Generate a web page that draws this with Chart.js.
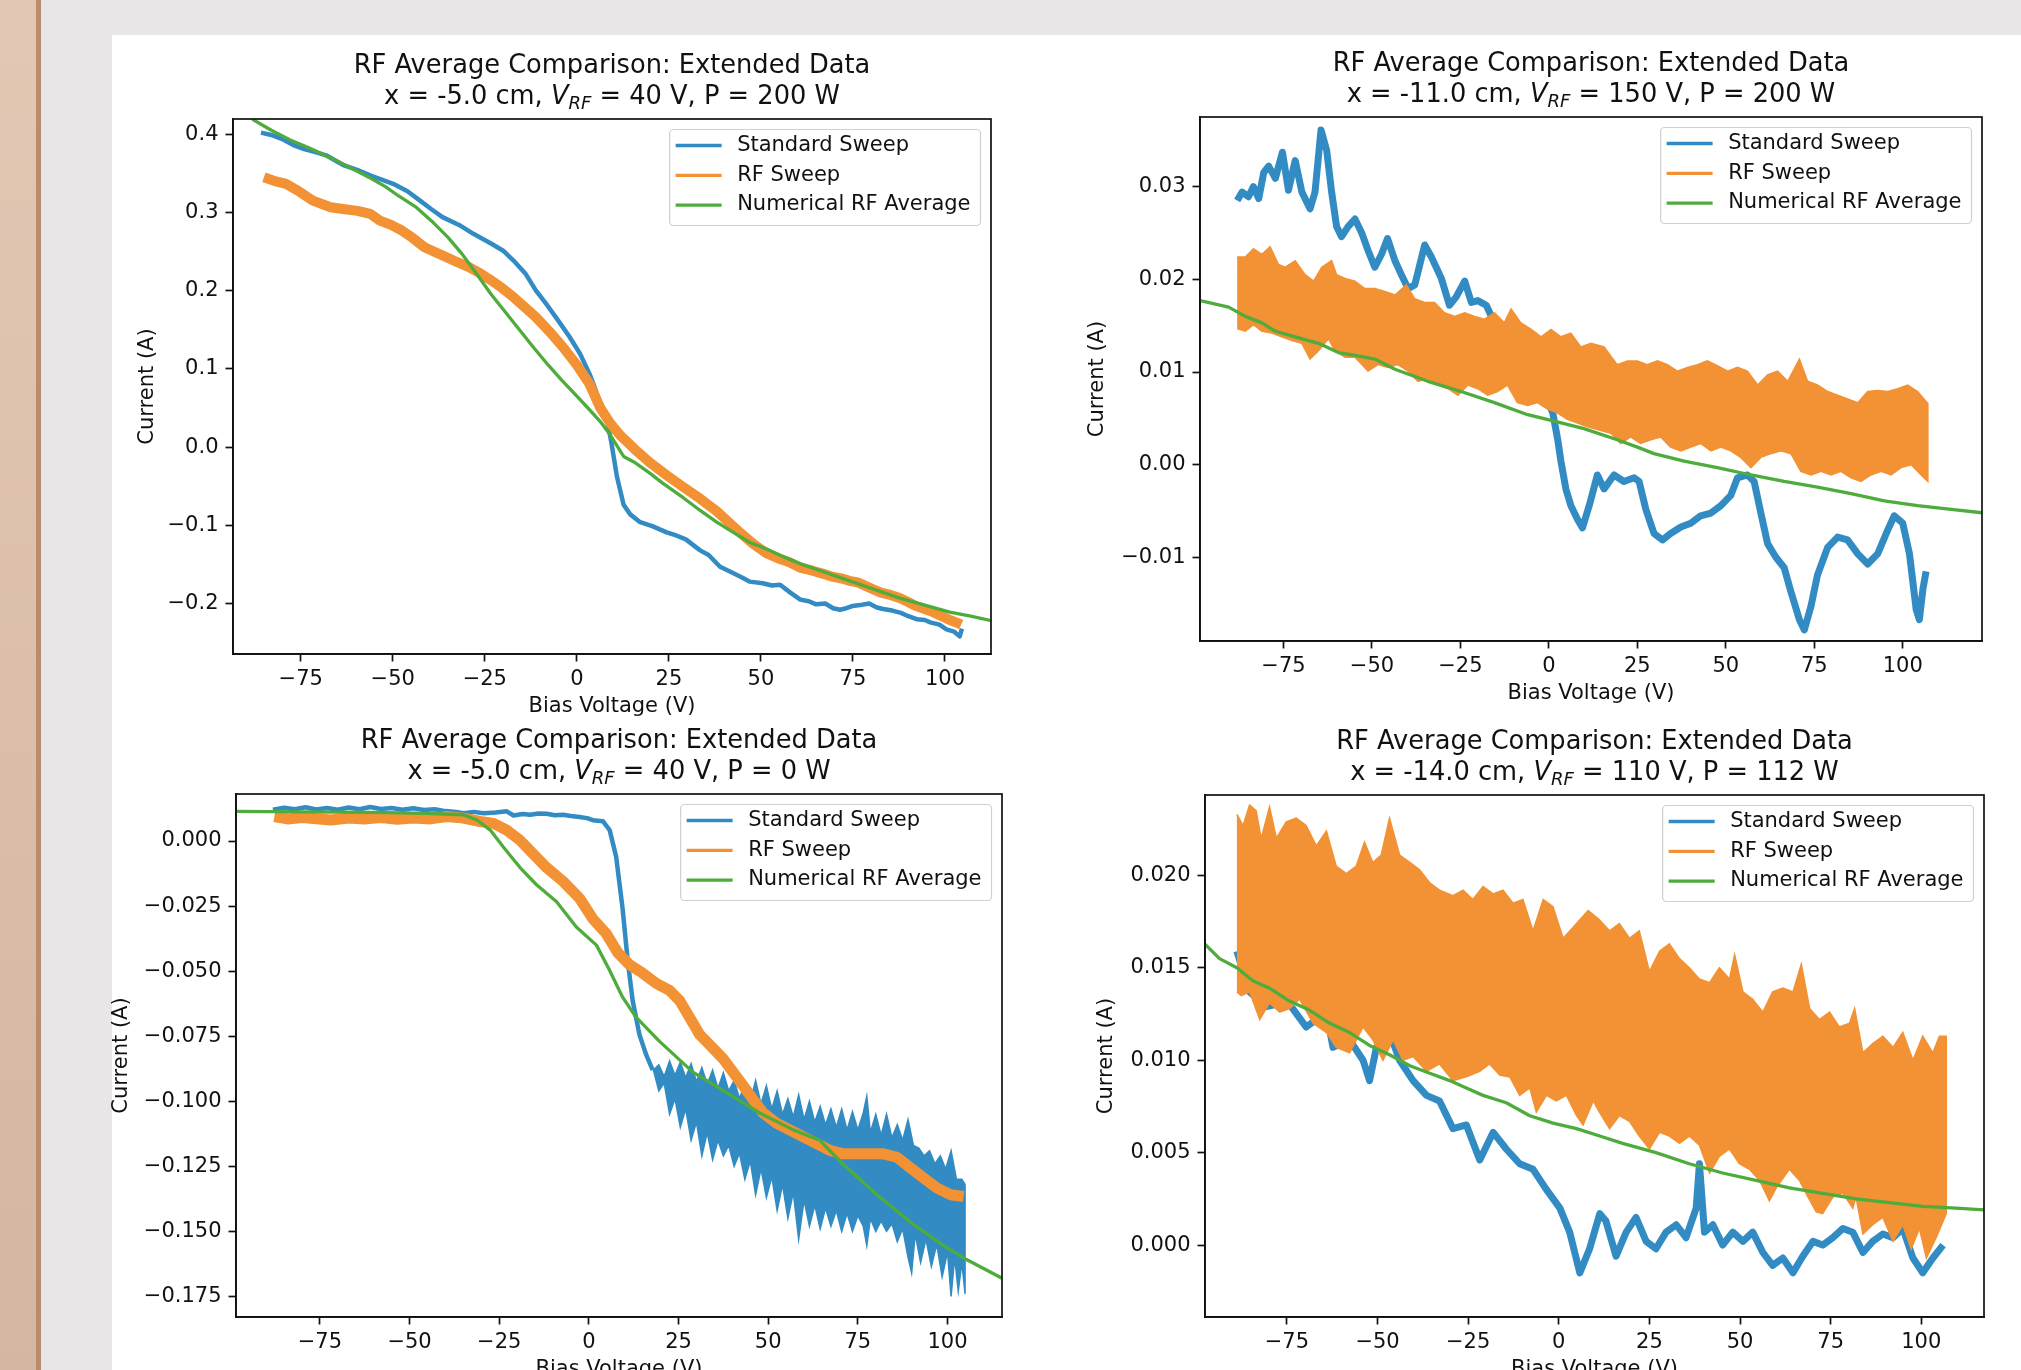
<!DOCTYPE html>
<html>
<head>
<meta charset="utf-8">
<script src="https://cdn.jsdelivr.net/npm/chart.js@4.4.0/dist/chart.umd.min.js"></script>
<style>
  html, body { margin: 0; padding: 0; }
  body { width: 2021px; height: 1370px; overflow: hidden; position: relative; background: #e8e6e6; font-family: 'DejaVu Sans', sans-serif; }
  #strip { position: absolute; left: 0; top: 0; width: 36px; height: 1370px; background: linear-gradient(#e2c8b4, #d4b6a2); }
  #rule { position: absolute; left: 36px; top: 0; width: 5px; height: 1370px; background: #bb8c6c; }
  #panel { position: absolute; left: 112px; top: 35px; right: 0; bottom: 0; background: #fff; }
  canvas { position: absolute; }
  .ttl { position: absolute; text-align: center; font-size: 25.7px; line-height: 31px; color: #111; white-space: nowrap; }
  .ttl sub { font-size: 70%; vertical-align: baseline; position: relative; top: 0.28em; }
</style>
</head>
<body>
<div id="strip"></div>
<div id="rule"></div>
<div id="panel"></div>
<canvas id="c1"></canvas>
<canvas id="c2"></canvas>
<canvas id="c3"></canvas>
<canvas id="c4"></canvas>
<div class="ttl" id="t1">RF Average Comparison: Extended Data<br>x = -5.0 cm, <i>V<sub>RF</sub></i> = 40 V, P = 200 W</div>
<div class="ttl" id="t2">RF Average Comparison: Extended Data<br>x = -11.0 cm, <i>V<sub>RF</sub></i> = 150 V, P = 200 W</div>
<div class="ttl" id="t3">RF Average Comparison: Extended Data<br>x = -5.0 cm, <i>V<sub>RF</sub></i> = 40 V, P = 0 W</div>
<div class="ttl" id="t4">RF Average Comparison: Extended Data<br>x = -14.0 cm, <i>V<sub>RF</sub></i> = 110 V, P = 112 W</div>
<script>
// ---------- tick values / labels ----------
const xTickVals = [-75, -50, -25, 0, 25, 50, 75, 100];
const xTickText = ["\u221275", "\u221250", "\u221225", "0", "25", "50", "75", "100"];

const c1YTicks = [0.4, 0.3, 0.2, 0.1, 0.0, -0.1, -0.2];
const c1YText = ["0.4", "0.3", "0.2", "0.1", "0.0", "\u22120.1", "\u22120.2"];
const c2YTicks = [0.03, 0.02, 0.01, 0.0, -0.01];
const c2YText = ["0.03", "0.02", "0.01", "0.00", "\u22120.01"];
const c3YTicks = [0, -0.025, -0.05, -0.075, -0.1, -0.125, -0.15, -0.175];
const c3YText = ["0.000", "\u22120.025", "\u22120.050", "\u22120.075", "\u22120.100", "\u22120.125", "\u22120.150", "\u22120.175"];
const c4YTicks = [0.02, 0.015, 0.01, 0.005, 0.0];
const c4YText = ["0.020", "0.015", "0.010", "0.005", "0.000"];

const seriesNames = ["Standard Sweep", "RF Sweep", "Numerical RF Average"];

// ---------- chart 1: x = -5 cm, 40 V, 200 W ----------
const c1BlueV = [-85.8,-83,-80.2,-77,-74.1,-71,-68.1,-65.5,-63.2,-59.5,-56,-53,-49.9,-46,-42.6,-39.5,-36.5,-32,-28.1,-23.2,-20,-17.2,-14,-11.1,-8,-5.1,-2,0.9,3.5,5.8,8.1,9.3,10.9,12.7,14.5,17.2,20.5,24.4,27,29.6,33.5,35.8,38.9,42,45,47,50.5,53,55.2,58,60.7,63,65,67.5,69.6,71.5,73.2,75,76.9,79.4,81.5,83.2,85.7,88,89.5,92.3,94.5,96,98.5,100.4,102.5,104,104.6];
const c1BlueI = [0.402,0.399,0.394,0.386,0.381,0.377,0.373,0.366,0.360,0.354,0.347,0.342,0.3365,0.327,0.315,0.304,0.294,0.284,0.2726,0.260,0.251,0.2385,0.222,0.200,0.181,0.162,0.141,0.119,0.093,0.064,0.037,0.008,-0.038,-0.0736,-0.086,-0.096,-0.101,-0.109,-0.113,-0.118,-0.132,-0.138,-0.153,-0.160,-0.167,-0.172,-0.174,-0.177,-0.176,-0.186,-0.195,-0.197,-0.201,-0.200,-0.206,-0.208,-0.206,-0.203,-0.202,-0.200,-0.205,-0.207,-0.209,-0.212,-0.215,-0.220,-0.221,-0.224,-0.227,-0.233,-0.236,-0.242,-0.232];
const c1OrangeV = [-85,-82,-79,-75.5,-71.7,-66.9,-63,-59.6,-56.1,-53.5,-50.5,-47.5,-44.5,-41.4,-38.4,-35.4,-32.3,-29.3,-26.2,-23.2,-20.2,-17.2,-14.2,-11.1,-7.5,-3.8,0,3.4,6.3,9,11.8,15.8,19.9,24.4,28.9,33.5,38,41,44.5,48,51.6,54.6,57.6,60.6,64,67,69.6,72,74,76.3,78.7,80.6,82.6,85.2,87.7,90,92,94.5,96.8,99,101.3,103,104.4];
const c1OrangeI = [0.345,0.340,0.3365,0.327,0.315,0.3066,0.304,0.302,0.298,0.2896,0.284,0.2768,0.267,0.2555,0.249,0.2427,0.236,0.230,0.222,0.213,0.203,0.1916,0.179,0.166,0.148,0.128,0.105,0.081,0.0507,0.031,0.015,-0.003,-0.020,-0.036,-0.051,-0.066,-0.082,-0.095,-0.110,-0.124,-0.136,-0.142,-0.147,-0.154,-0.158,-0.162,-0.166,-0.168,-0.171,-0.173,-0.178,-0.182,-0.186,-0.189,-0.193,-0.198,-0.203,-0.207,-0.211,-0.216,-0.221,-0.224,-0.227];
const c1GreenV = [-88.1,-83,-78,-72.5,-67,-61.5,-56.1,-52,-48.4,-43.5,-39,-35,-31.2,-27.3,-23.4,-19.5,-15.6,-11.7,-7.8,-4,0,3.2,6.3,9,11,12.7,15.5,19.9,23.3,28.9,33.5,38,42.5,47,51.4,56,60.6,67.4,74.1,80.9,87.7,94.5,101.3,107,112.6];
const c1GreenI = [0.419,0.405,0.393,0.382,0.370,0.357,0.344,0.333,0.321,0.306,0.287,0.268,0.247,0.222,0.196,0.173,0.150,0.127,0.105,0.085,0.065,0.049,0.033,0.016,0.001,-0.012,-0.019,-0.0336,-0.046,-0.0647,-0.081,-0.096,-0.109,-0.122,-0.130,-0.140,-0.149,-0.160,-0.171,-0.182,-0.193,-0.202,-0.211,-0.216,-0.222];

// ---------- chart 2: x = -11 cm, 150 V, 200 W ----------
const c2BlueV = [-88.1,-86.7,-84.9,-83.5,-82.0,-80.6,-79.2,-77.3,-75.3,-73.6,-71.7,-69.8,-67.5,-66.1,-64.4,-62.8,-61.4,-60.0,-58.6,-56.7,-54.8,-52.9,-51.1,-49.2,-47.3,-45.6,-43.5,-41.7,-39.8,-37.9,-35.1,-33.2,-30.4,-28.1,-26.2,-23.8,-21.9,-20.1,-17.7,-15.4,-10.7,-6.0,-2.2,1.1,2.5,3.4,4.8,6.2,8.1,9.5,11.4,13.7,15.6,18.4,21.2,24.1,25.5,27.4,29.7,32.1,34.4,37.3,40.1,42.9,45.8,48.6,51.4,53.3,56.1,58.0,59.9,61.8,64.2,66.5,68.4,70.8,72.2,74.1,75.9,78.8,81.6,84.4,87.3,90.1,92.9,95.8,97.6,100.0,101.9,103.8,104.7,105.7,106.6];
const c2BlueI = [0.0285,0.0294,0.0289,0.0300,0.0287,0.0315,0.0322,0.0309,0.0337,0.0296,0.0328,0.0294,0.0276,0.0294,0.0361,0.0339,0.0294,0.0257,0.0246,0.0257,0.0265,0.0250,0.0231,0.0213,0.0227,0.0244,0.0220,0.0205,0.0190,0.0194,0.0237,0.0224,0.0201,0.0172,0.0181,0.0198,0.0175,0.0177,0.0172,0.0153,0.0131,0.0108,0.0086,0.0056,0.0027,0.0004,-0.0026,-0.0044,-0.0059,-0.0068,-0.0044,-0.0011,-0.0026,-0.0011,-0.0018,-0.0014,-0.0018,-0.0048,-0.0074,-0.0081,-0.0074,-0.0067,-0.0063,-0.0055,-0.0052,-0.0044,-0.0033,-0.0014,-0.0011,-0.0018,-0.0052,-0.0085,-0.0100,-0.0111,-0.0137,-0.0167,-0.0178,-0.0152,-0.0119,-0.0089,-0.0078,-0.0081,-0.0096,-0.0107,-0.0096,-0.0070,-0.0055,-0.0063,-0.0096,-0.0156,-0.0167,-0.0134,-0.0115];
const c2OrangeTopV = [-88.1,-85.8,-83.5,-81.1,-78.8,-76.4,-74.5,-71.7,-68.9,-66.5,-64.2,-61.4,-60.0,-57.6,-54.8,-52.0,-49.2,-46.4,-43.5,-40.3,-37.9,-35.1,-32.3,-29.5,-26.6,-23.8,-21.0,-18.2,-15.4,-12.6,-10.7,-7.9,-5.0,-2.2,0.6,3.4,6.2,9.0,11.9,15.6,19.3,22.2,25.0,27.8,30.7,33.5,36.3,39.2,42.0,44.8,47.6,50.5,53.3,56.1,59.0,61.8,64.6,67.5,70.8,73.1,75.9,78.8,81.6,84.4,87.3,90.1,92.9,95.8,98.6,101.4,104.2,107.1];
const c2OrangeTopI = [0.0224,0.0224,0.0233,0.0227,0.0235,0.0216,0.0213,0.0220,0.0205,0.0198,0.0213,0.0220,0.0205,0.0201,0.0198,0.0190,0.0190,0.0187,0.0183,0.0194,0.0179,0.0175,0.0175,0.0164,0.0160,0.0164,0.0160,0.0157,0.0164,0.0153,0.0168,0.0153,0.0146,0.0138,0.0146,0.0138,0.0142,0.0127,0.0131,0.0127,0.0108,0.0112,0.0112,0.0108,0.0112,0.0108,0.0101,0.0105,0.0108,0.0112,0.0107,0.0101,0.0105,0.0101,0.0086,0.0097,0.0101,0.0090,0.0114,0.0090,0.0086,0.0079,0.0075,0.0071,0.0067,0.0079,0.0080,0.0079,0.0082,0.0086,0.0079,0.0066];
const c2OrangeBotV = [-88.1,-85.8,-83.5,-81.1,-78.3,-75.5,-72.6,-69.8,-67.5,-65.1,-62.3,-60.5,-57.6,-54.8,-51.1,-48.3,-45.5,-42.7,-39.8,-37.0,-34.2,-31.4,-28.5,-25.7,-22.9,-20.1,-17.3,-14.5,-11.7,-8.9,-6.0,-3.2,-0.4,2.4,5.2,8.1,10.9,13.7,17.5,20.3,23.1,25.9,28.8,31.6,34.4,37.3,40.1,42.9,45.8,48.6,51.4,54.2,57.1,59.9,62.7,65.6,68.4,71.2,74.1,76.9,79.7,82.5,85.4,88.2,91.0,93.9,96.7,99.5,102.4,105.2,107.1];
const c2OrangeBotI = [0.0147,0.0144,0.0151,0.0144,0.0142,0.0138,0.0134,0.0131,0.0114,0.0123,0.0136,0.0123,0.0116,0.0116,0.0101,0.0108,0.0105,0.0108,0.0101,0.0090,0.0093,0.0086,0.0082,0.0075,0.0086,0.0082,0.0075,0.0079,0.0086,0.0067,0.0064,0.0067,0.0060,0.0056,0.0049,0.0045,0.0041,0.0038,0.0034,0.0023,0.0030,0.0023,0.0027,0.0030,0.0019,0.0015,0.0019,0.0023,0.0015,0.0019,0.0015,0.0008,-0.0003,0.0008,0.0012,0.0015,0.0012,-0.0007,-0.0011,-0.0007,-0.0011,-0.0007,-0.0014,-0.0018,-0.0011,-0.0007,-0.0011,-0.0003,0.0000,-0.0011,-0.0018];
const c2GreenV = [-98.6,-90.5,-85.8,-81.1,-77.3,-71.7,-65.1,-59.5,-54.8,-49.2,-43.5,-34.2,-24.8,-15.4,-6.0,1.5,9.9,19.3,25.0,29.7,38.2,47.6,57.1,66.5,75.9,85.4,94.8,104.2,113.7,123];
const c2GreenI = [0.0177,0.0170,0.0160,0.0153,0.0144,0.0138,0.0131,0.0121,0.0118,0.0114,0.0103,0.0090,0.0079,0.0067,0.0054,0.0047,0.0039,0.0027,0.0019,0.0012,0.0004,-0.0003,-0.0011,-0.0018,-0.0024,-0.0031,-0.0039,-0.0044,-0.0048,-0.0052];

// ---------- chart 3: x = -5 cm, 40 V, 0 W ----------
const c3BlueV = [-88.1,-85,-82,-79,-76,-73,-70,-67,-64,-61,-58,-55,-52,-49,-46,-43,-40,-37,-35,-32,-29.4,-26,-22.9,-21,-18.5,-16.4,-14,-11.8,-9.5,-7.2,-5,-2.6,-0.5,1.1,3.9,5.8,7.6,9.4,10.8,12.2,14.1,16,17.8];
const c3BlueI = [0.0120,0.0128,0.0122,0.0130,0.0121,0.0127,0.0120,0.0129,0.0122,0.0131,0.0123,0.0127,0.0120,0.0126,0.0119,0.0122,0.0115,0.0112,0.0107,0.0112,0.0107,0.0110,0.0114,0.0098,0.0104,0.0101,0.0106,0.0105,0.0099,0.0101,0.0096,0.0092,0.0088,0.0080,0.0076,0.0042,-0.0060,-0.0259,-0.0456,-0.0613,-0.0744,-0.0822,-0.0880];
const c3BandTopV = [18.0,19.5,21.0,22.5,24.0,25.5,27.0,28.5,30.0,31.5,33.0,34.5,36.0,37.5,39.0,40.5,42.0,43.5,45.0,46.5,48.0,49.5,51.0,52.5,54.0,55.5,57.0,58.5,60.0,61.5,63.0,64.5,66.0,67.5,69.0,70.5,72.0,73.5,75.0,76.5,77.5,78.5,80.0,81.5,83.0,84.5,86.0,87.5,89.0,90.5,92.0,93.5,95.0,96.5,98.0,99.5,101.0,102.5,104.0,104.9];
const c3BandTopI = [-0.0880,-0.0860,-0.0905,-0.0845,-0.0900,-0.0850,-0.0910,-0.0855,-0.0925,-0.0870,-0.0935,-0.0880,-0.0950,-0.0890,-0.0960,-0.0920,-0.0990,-0.0930,-0.1000,-0.0920,-0.1010,-0.0940,-0.1030,-0.0960,-0.1050,-0.0990,-0.1060,-0.0975,-0.1070,-0.1000,-0.1080,-0.1020,-0.1090,-0.1030,-0.1100,-0.1030,-0.1110,-0.1040,-0.1110,-0.1045,-0.0980,-0.1120,-0.1050,-0.1130,-0.1050,-0.1140,-0.1090,-0.1150,-0.1070,-0.1170,-0.1180,-0.1210,-0.1190,-0.1240,-0.1210,-0.1260,-0.1190,-0.1300,-0.1300,-0.1320];
const c3BandBotV = [18.0,19.5,21.0,22.5,24.0,25.5,27.0,28.5,30.0,31.5,33.0,34.5,36.0,37.5,39.0,40.5,42.0,43.5,45.0,46.5,48.0,49.5,51.0,52.5,54.0,55.5,57.0,58.5,60.0,61.5,63.0,64.5,66.0,67.5,69.0,70.5,72.0,73.5,75.0,76.5,77.5,78.5,80.0,81.5,83.0,84.5,86.0,87.5,89.0,90.0,91.0,92.5,94.0,95.5,97.0,98.5,100.0,101.0,102.0,103.0,104.0,104.9];
const c3BandBotI = [-0.0880,-0.0960,-0.0930,-0.1050,-0.0990,-0.1100,-0.1030,-0.1150,-0.1080,-0.1210,-0.1120,-0.1225,-0.1150,-0.1210,-0.1170,-0.1250,-0.1200,-0.1300,-0.1230,-0.1360,-0.1260,-0.1370,-0.1290,-0.1420,-0.1320,-0.1450,-0.1350,-0.1530,-0.1380,-0.1480,-0.1400,-0.1490,-0.1410,-0.1480,-0.1420,-0.1500,-0.1430,-0.1500,-0.1440,-0.1480,-0.1555,-0.1450,-0.1500,-0.1460,-0.1500,-0.1470,-0.1540,-0.1490,-0.1600,-0.1660,-0.1510,-0.1620,-0.1530,-0.1635,-0.1550,-0.1675,-0.1580,-0.1750,-0.1600,-0.1730,-0.1620,-0.1740];
const c3OrangeV = [-87.7,-84,-80,-76,-71.9,-67,-62.7,-58,-53.4,-49,-44.2,-39.6,-35,-30.3,-26.6,-22.9,-19.2,-15.5,-11.8,-7.2,-2.6,1.1,4.8,8.1,11.3,15,18.8,22.5,25.3,28.1,30.9,33.7,37.4,40.2,43,45.8,48.6,52.3,56,59.8,63.5,67.2,70.9,74.7,78.4,82.1,85.9,89.6,93.3,97,100.8,104.5];
const c3OrangeI = [0.0094,0.0085,0.0090,0.0086,0.0081,0.0088,0.0085,0.0090,0.0084,0.0088,0.0085,0.0094,0.0088,0.0075,0.0068,0.0042,0.0003,-0.0050,-0.0102,-0.0155,-0.0220,-0.0299,-0.0355,-0.0430,-0.0475,-0.0508,-0.0547,-0.0574,-0.0613,-0.0678,-0.0744,-0.0783,-0.0836,-0.0888,-0.0940,-0.0993,-0.1045,-0.1084,-0.1110,-0.1137,-0.1163,-0.1189,-0.1202,-0.1202,-0.1202,-0.1202,-0.1215,-0.1255,-0.1294,-0.1333,-0.1359,-0.1366];
const c3GreenV = [-98.4,-80,-60,-45,-35,-31.2,-27.5,-23.8,-19.2,-14.6,-9,-3.5,2.1,5.7,9.4,13.2,19.7,29,38.3,47.6,57,64.4,70.9,80.3,89.6,99,104.5,115.2];
const c3GreenI = [0.0114,0.0112,0.0110,0.0106,0.0101,0.0081,0.0042,-0.0024,-0.0102,-0.0168,-0.0233,-0.0330,-0.0400,-0.0495,-0.0600,-0.0678,-0.0770,-0.0888,-0.0966,-0.1045,-0.1110,-0.1150,-0.1242,-0.1359,-0.1464,-0.1556,-0.1602,-0.1680];

// ---------- chart 4: x = -14 cm, 110 V, 112 W ----------
const c4BlueV = [-88.8,-85.3,-80.7,-76.1,-73.8,-69.7,-64.1,-62.3,-57.7,-54.0,-52.2,-50.3,-46.7,-43.9,-40.2,-36.5,-32.9,-29.2,-25.5,-21.8,-18.1,-14.5,-10.8,-7.1,-3.4,0.3,3.0,5.8,8.5,11.3,13.0,15.8,18.6,21.3,24.1,26.8,29.6,32.4,35.1,37.9,38.8,40.2,42.5,45.2,48.0,50.8,53.5,56.3,59.0,61.8,64.6,67.3,70.1,72.8,75.6,78.4,81.1,83.9,86.6,89.4,92.2,94.9,97.7,100.4,103.2,106.0];
const c4BlueI = [0.0159,0.0137,0.0129,0.0131,0.0129,0.0118,0.0126,0.0107,0.0111,0.0100,0.0089,0.0107,0.0115,0.0100,0.0089,0.0081,0.0078,0.0063,0.0065,0.0046,0.0061,0.0052,0.0044,0.0041,0.0030,0.0020,0.0007,-0.0015,-0.0002,0.0017,0.0013,-0.0006,0.0007,0.0015,0.0002,-0.0002,0.0007,0.0011,0.0004,0.0020,0.0044,0.0007,0.0011,0.0000,0.0007,0.0002,0.0007,-0.0004,-0.0011,-0.0007,-0.0015,-0.0006,0.0002,0.0000,0.0004,0.0009,0.0007,-0.0004,0.0002,0.0006,0.0004,0.0009,-0.0007,-0.0015,-0.0007,0.0000];
const c4OrangeTopV = [-88.8,-87.1,-85.3,-83.5,-82.1,-79.8,-77.9,-75.2,-72.4,-69.7,-66.9,-64.1,-61.4,-58.6,-55.9,-53.6,-51.3,-49.0,-46.7,-43.9,-41.1,-38.4,-35.6,-32.9,-29.2,-26.4,-23.7,-20.9,-18.1,-15.4,-12.6,-9.9,-7.1,-4.3,-1.6,1.2,4.9,8.1,11.2,14.0,16.7,19.5,22.2,25.0,27.8,30.5,33.3,36.0,38.8,41.6,44.3,47.1,48.5,50.8,53.5,56.3,59.0,61.8,64.6,66.9,69.2,71.9,74.7,77.4,80.2,81.6,83.9,86.6,89.4,92.2,94.9,97.7,100.4,103.2,105.0,106.9];
const c4OrangeTopI = [0.0233,0.0227,0.0238,0.0235,0.0220,0.0237,0.0220,0.0229,0.0231,0.0227,0.0216,0.0224,0.0205,0.0201,0.0205,0.0218,0.0207,0.0211,0.0231,0.0211,0.0207,0.0203,0.0196,0.0192,0.0189,0.0192,0.0187,0.0194,0.0190,0.0192,0.0185,0.0187,0.0170,0.0187,0.0183,0.0166,0.0174,0.0181,0.0176,0.0170,0.0174,0.0166,0.0170,0.0148,0.0159,0.0163,0.0155,0.0150,0.0144,0.0142,0.0150,0.0144,0.0157,0.0137,0.0133,0.0126,0.0137,0.0139,0.0137,0.0152,0.0128,0.0122,0.0126,0.0118,0.0120,0.0128,0.0104,0.0109,0.0113,0.0107,0.0115,0.0100,0.0113,0.0104,0.0113,0.0113];
const c4OrangeBotV = [-88.8,-87.6,-85.3,-82.5,-79.8,-77.0,-74.3,-71.5,-67.8,-64.1,-61.4,-57.7,-54.0,-51.3,-48.5,-45.7,-43.0,-40.2,-36.5,-32.9,-29.2,-25.5,-21.8,-19.1,-16.3,-13.5,-10.8,-8.0,-6.2,-3.4,-0.7,2.1,4.9,6.7,9.5,11.2,14.0,16.7,19.5,22.2,25.0,27.8,30.5,33.3,36.0,38.8,41.6,44.3,47.1,49.8,52.6,55.4,58.1,60.0,63.6,66.4,68.2,71.0,72.8,75.6,78.4,81.1,82.0,83.9,86.6,89.4,92.2,94.9,97.2,99.5,101.4,104.1,106.9];
const c4OrangeBotI = [0.0137,0.0135,0.0137,0.0122,0.0131,0.0126,0.0128,0.0133,0.0120,0.0115,0.0107,0.0104,0.0118,0.0111,0.0100,0.0111,0.0100,0.0102,0.0094,0.0098,0.0089,0.0091,0.0094,0.0098,0.0092,0.0091,0.0081,0.0085,0.0072,0.0081,0.0078,0.0081,0.0070,0.0065,0.0078,0.0072,0.0063,0.0070,0.0067,0.0059,0.0052,0.0061,0.0059,0.0055,0.0059,0.0054,0.0039,0.0048,0.0052,0.0044,0.0041,0.0035,0.0024,0.0031,0.0041,0.0035,0.0028,0.0018,0.0017,0.0026,0.0028,0.0020,0.0026,0.0006,0.0011,0.0015,0.0002,0.0011,-0.0002,0.0009,-0.0007,0.0004,0.0017];
const c4GreenV = [-97.7,-93.6,-88.8,-84.4,-79.8,-74.3,-68.7,-63.2,-57.7,-52.2,-46.7,-41.1,-35.6,-30.1,-25.5,-20.9,-14.5,-8.0,-1.6,4.9,11.3,17.6,26.8,36.0,45.2,54.4,63.6,72.8,82.0,91.2,100.4,109.6,117.5];
const c4GreenI = [0.0163,0.0155,0.0150,0.0143,0.0139,0.0132,0.0127,0.0120,0.0115,0.0108,0.0103,0.0097,0.0093,0.0089,0.0085,0.0081,0.0077,0.0070,0.0066,0.0063,0.0059,0.0055,0.0050,0.0044,0.0039,0.0035,0.0031,0.0028,0.0025,0.0023,0.0021,0.0020,0.0019];

// ---------- styling ----------
const BLUE = "#328cc3";
const ORANGE = "#f29234";
const GREEN = "#4dac3c";
const INK = "#111";

Chart.defaults.font.family = "'DejaVu Sans', sans-serif";
Chart.defaults.font.size = 21;
Chart.defaults.color = INK;

const pts = (vs, is) => vs.map((v, k) => ({ x: v, y: is[k] }));
const band = (tv, ti, bv, bi) => pts(tv, ti).concat(pts(bv, bi).reverse());

function lineSet(data, color, w) {
  return { data, borderColor: color, backgroundColor: color, borderWidth: w, pointRadius: 0,
           fill: false, tension: 0, clip: 0, borderJoinStyle: "round" };
}
function bandSet(data, color) {
  return { data, borderColor: color, backgroundColor: color, borderWidth: 1.5, pointRadius: 0,
           fill: "shape", tension: 0, clip: 0 };
}

// spines on all four sides, like matplotlib
const frame = {
  id: "frame",
  afterDatasetsDraw(chart) {
    const { ctx, chartArea: a } = chart;
    ctx.save();
    ctx.strokeStyle = INK;
    ctx.lineWidth = 1.7;
    ctx.strokeRect(a.left, a.top, a.right - a.left, a.bottom - a.top);
    ctx.restore();
  }
};

// legend box in the upper right corner of the axes
const mplLegend = {
  id: "mplLegend",
  afterDraw(chart, args, opts) {
    const { ctx, chartArea: a } = chart;
    ctx.save();
    ctx.font = "21px 'DejaVu Sans'";
    const tw = Math.max(...opts.items.map(it => ctx.measureText(it.label).width));
    const w = 67.5 + tw + 10, h = 96;
    const x = a.right - 10.5 - w, y = a.top + 10.5;
    ctx.beginPath();
    ctx.roundRect(x, y, w, h, 4);
    ctx.fillStyle = "rgba(255,255,255,0.8)";
    ctx.fill();
    ctx.strokeStyle = "#d0d0d0";
    ctx.lineWidth = 1.2;
    ctx.stroke();
    opts.items.forEach((it, i) => {
      const cy = y + 16 + i * 29.8;
      ctx.beginPath();
      ctx.moveTo(x + 6, cy);
      ctx.lineTo(x + 52, cy);
      ctx.strokeStyle = it.color;
      ctx.lineWidth = 3.3;
      ctx.stroke();
      ctx.fillStyle = INK;
      ctx.textBaseline = "alphabetic";
      ctx.fillText(it.label, x + 67.5, cy + 5.2);
    });
    ctx.restore();
  }
};

const legendItems = [
  { label: seriesNames[0], color: BLUE },
  { label: seriesNames[1], color: ORANGE },
  { label: seriesNames[2], color: GREEN }
];

const PAD_L = 140, PAD_T = 30, PAD_R = 30, PAD_B = 80;

function build(id, box, lim, yVals, yText, yTitlePad, datasets) {
  const cv = document.getElementById(id);
  const w = box.right - box.left + PAD_L + PAD_R;
  const h = box.bottom - box.top + PAD_T + PAD_B;
  cv.width = w; cv.height = h;
  cv.style.width = w + "px"; cv.style.height = h + "px";
  cv.style.left = (box.left - PAD_L) + "px";
  cv.style.top = (box.top - PAD_T) + "px";

  const tickGrid = { drawOnChartArea: false, drawTicks: true, tickLength: 7.5, tickWidth: 1.7, tickColor: INK, color: INK };
  const border = { display: true, color: INK, width: 1.7 };

  return new Chart(cv, {
    type: "line",
    data: { datasets },
    options: {
      responsive: false,
      animation: false,
      devicePixelRatio: 1,
      layout: { padding: { top: PAD_T, right: PAD_R, left: 0, bottom: 0 } },
      plugins: {
        legend: { display: false },
        tooltip: { enabled: false },
        mplLegend: { items: legendItems }
      },
      scales: {
        x: {
          type: "linear", position: "bottom", min: lim.x0, max: lim.x1,
          afterBuildTicks: s => { s.ticks = xTickVals.map(v => ({ value: v })); },
          afterFit: s => { s.height = PAD_B; },
          ticks: { autoSkip: false, maxRotation: 0, padding: 5, color: INK, callback: (v, i) => xTickText[i] },
          grid: tickGrid,
          border,
          title: { display: true, text: "Bias Voltage (V)", color: INK, padding: { top: 0, bottom: 14.4 } }
        },
        y: {
          type: "linear", position: "left", min: lim.y0, max: lim.y1,
          afterBuildTicks: s => { s.ticks = yVals.map(v => ({ value: v })); },
          afterFit: s => { s.width = PAD_L; },
          ticks: { autoSkip: false, padding: 7, color: INK, callback: (v, i) => yText[i] },
          grid: tickGrid,
          border,
          title: { display: true, text: "Current (A)", color: INK, padding: { top: yTitlePad, bottom: 0 } }
        }
      }
    },
    plugins: [frame, mplLegend]
  });
}

function placeTitle(id, box) {
  const t = document.getElementById(id);
  t.style.left = box.left + "px";
  t.style.width = (box.right - box.left) + "px";
  t.style.top = (box.top - 70) + "px";
}

// axes rectangles on the page
const box1 = { left: 233, top: 119, right: 991, bottom: 654 };
const box2 = { left: 1200, top: 117, right: 1982, bottom: 641 };
const box3 = { left: 236, top: 794, right: 1002, bottom: 1317 };
const box4 = { left: 1205, top: 795, right: 1984, bottom: 1317 };

build("c1", box1, { x0: -93.4, x1: 112.5, y0: -0.2645, y1: 0.4194 }, c1YTicks, c1YText, 42.3, [
  lineSet(pts(c1GreenV, c1GreenI), GREEN, 3.3),
  lineSet(pts(c1OrangeV, c1OrangeI), ORANGE, 10),
  lineSet(pts(c1BlueV, c1BlueI), BLUE, 4.5)
]);

build("c2", box2, { x0: -98.6, x1: 122.4, y0: -0.019, y1: 0.0375 }, c2YTicks, c2YText, 24.8, [
  lineSet(pts(c2GreenV, c2GreenI), GREEN, 3.3),
  bandSet(band(c2OrangeTopV, c2OrangeTopI, c2OrangeBotV, c2OrangeBotI), ORANGE),
  lineSet(pts(c2BlueV, c2BlueI), BLUE, 7)
]);

build("c3", box3, { x0: -98.4, x1: 115.2, y0: -0.1829, y1: 0.01807 }, c3YTicks, c3YText, 13.3, [
  lineSet(pts(c3GreenV, c3GreenI), GREEN, 3.3),
  lineSet(pts(c3OrangeV, c3OrangeI), ORANGE, 11),
  lineSet(pts(c3BlueV, c3BlueI), BLUE, 4.5),
  bandSet(band(c3BandTopV, c3BandTopI, c3BandBotV, c3BandBotI), BLUE)
]);

build("c4", box4, { x0: -97.6, x1: 117.3, y0: -0.00389, y1: 0.02435 }, c4YTicks, c4YText, 29.2, [
  lineSet(pts(c4GreenV, c4GreenI), GREEN, 3.3),
  bandSet(band(c4OrangeTopV, c4OrangeTopI, c4OrangeBotV, c4OrangeBotI), ORANGE),
  lineSet(pts(c4BlueV, c4BlueI), BLUE, 7)
]);

placeTitle("t1", box1);
placeTitle("t2", box2);
placeTitle("t3", box3);
placeTitle("t4", box4);
</script>
</body>
</html>
